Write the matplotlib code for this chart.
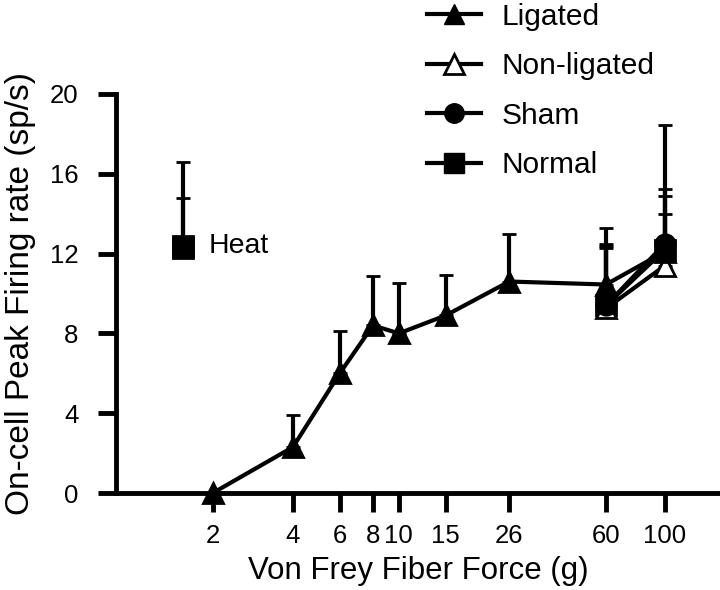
import numpy as np
from matplotlib import pyplot as plt
from matplotlib.lines import Line2D

plt.rcParams['font.family'] = ['Liberation Sans', 'DejaVu Sans']

# von Frey forces (g)
force = [2, 4, 6, 8, 10, 15, 26, 60, 100]
force_labels = ["2", "4", "6", "8", "10", "15", "26", "60", "100"]

# mean firing rate and top of error bar (sp/s)
ligated = [0, 2.3, 6.0, 8.4, 8.0, 8.9, 10.6, 10.45, 12.1]
ligated_top = [0, 3.9, 8.1, 10.9, 10.55, 10.95, 13.0, 13.3, 15.25]

high_force = [60, 100]
nonligated = [9.25, 11.4]
nonligated_top = [12.3, 14.0]
sham = [9.4, 12.5]
sham_top = [12.5, 18.45]
normal = [9.4, 12.2]
normal_top = [12.4, 14.9]

heat_x = [1.55, 1.55]
heat = [12.4, 12.3]
heat_top = [16.6, 14.8]


def upper_err(vals, tops):
    vals = np.array(vals)
    return [np.zeros_like(vals), np.array(tops) - vals]


fig = plt.figure(figsize=(7.2, 5.9), dpi=100)
ax = fig.add_axes([0.161, 0.1644, 0.839, 0.6763])

eb = dict(color="black", lw=3, elinewidth=3, capsize=5, capthick=3.5,
          clip_on=False, markeredgewidth=2)

ax.errorbar(high_force, normal, yerr=upper_err(normal, normal_top),
            marker="s", ms=14, **eb)
ax.errorbar(high_force, nonligated, yerr=upper_err(nonligated, nonligated_top),
            marker="^", ms=15, markerfacecolor="white", **eb)
ax.errorbar(force, ligated, yerr=upper_err(ligated, ligated_top),
            marker="^", ms=15, **eb)
ax.errorbar(high_force, sham, yerr=upper_err(sham, sham_top),
            marker="o", ms=14, **eb)
ax.errorbar(heat_x, heat, yerr=upper_err(heat, heat_top),
            marker="s", ms=15, ls="none", **eb)
ax.text(1.93, 12.4, "Heat", fontsize=20.5, va="center", ha="left")

ax.set_xscale("log")
ax.set_xlim(0.865, 161)
ax.set_ylim(0, 20)
ax.set_xticks(force)
ax.set_xticklabels(force_labels)
ax.minorticks_off()
ax.set_yticks([0, 4, 8, 12, 16, 20])

for s in ["top", "right"]:
    ax.spines[s].set_visible(False)
for s in ["left", "bottom"]:
    ax.spines[s].set_linewidth(3.5)
ax.spines["left"].set_bounds(0, 20)
ax.tick_params(axis="both", width=3.5, labelsize=18.5, direction="out")
ax.tick_params(axis="y", length=13, pad=14)
ax.tick_params(axis="x", length=14, pad=8)

ax.set_xlabel("Von Frey Fiber Force (g)", fontsize=22.5, labelpad=6)
ax.set_ylabel("On-cell Peak Firing rate (sp/s)", fontsize=24, labelpad=10)

handles = [
    Line2D([], [], color="black", lw=3, marker="^", ms=15),
    Line2D([], [], color="black", lw=3, marker="^", ms=15,
           markerfacecolor="white", markeredgewidth=2),
    Line2D([], [], color="black", lw=3, marker="o", ms=14),
    Line2D([], [], color="black", lw=3, marker="s", ms=14),
]
fig.legend(handles, ["Ligated", "Non-ligated", "Sham", "Normal"],
           loc="upper left", bbox_to_anchor=(0.572, 1.021), frameon=False,
           fontsize=21.5, handlelength=1.8, handletextpad=0.7,
           labelspacing=0.72, borderpad=0)

fig.savefig("out.png", dpi=100)
